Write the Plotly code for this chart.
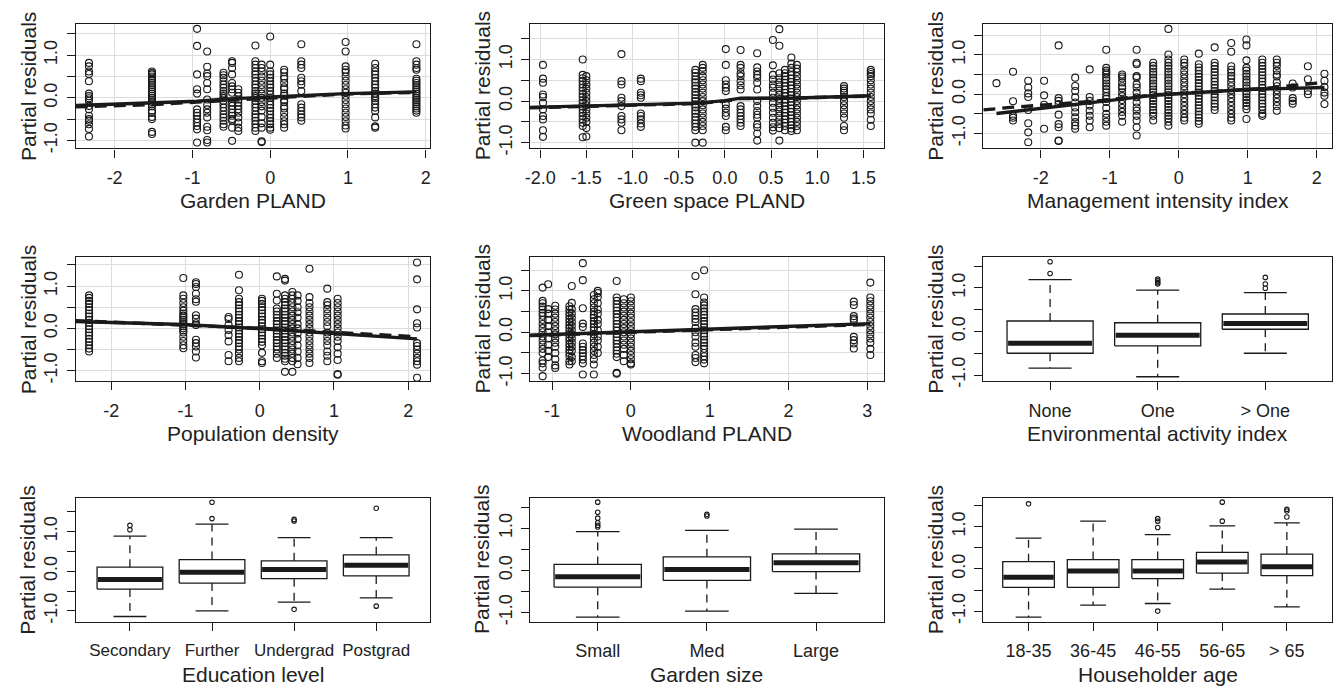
import plotly.graph_objects as go

FONT = "Liberation Sans, Arial, Helvetica, sans-serif"
INK = "#1a1a1a"
GRID = "#dcdcdc"

# ---------------- Panel 1: Garden PLAND ----------------
garden_x = [-2.33, -1.52, -0.94, -0.81, -0.60, -0.49, -0.41, -0.19, -0.11, 0.00, 0.18, 0.40, 0.97, 1.35, 1.88]
garden_y = [
    [0.82, 0.74, 0.62, 0.56, 0.39, 0.10, 0.04, -0.01, -0.07, -0.19, -0.27, -0.42, -0.50, -0.54, -0.62, -0.73, -0.91],
    [0.62, 0.58, 0.55, 0.50, 0.45, 0.40, 0.35, 0.30, 0.25, 0.20, 0.15, 0.10, 0.05, 0.00, -0.05, -0.10, -0.15, -0.20, -0.30, -0.35, -0.45, -0.50, -0.80, -0.85],
    [1.62, 1.22, 0.55, 0.20, 0.10, -0.27, -0.35, -0.42, -0.50, -0.58, -0.66, -0.74, -1.05],
    [1.09, 0.73, 0.57, 0.51, 0.35, 0.20, -0.04, -0.17, -0.27, -0.35, -0.46, -0.68, -0.76, -0.99, -1.05],
    [0.59, 0.53, 0.47, 0.39, 0.31, 0.24, 0.16, 0.10, 0.04, -0.01, -0.07, -0.15, -0.23, -0.31, -0.39, -0.46, -0.54, -0.62, -0.68],
    [0.86, 0.82, 0.70, 0.55, 0.35, 0.27, 0.20, 0.12, -0.11, -0.19, -0.27, -0.35, -0.42, -0.50, -0.54, -0.70, -1.01],
    [0.20, 0.12, 0.04, -0.04, -0.11, -0.19, -0.27, -0.35, -0.46, -0.58, -0.70, -0.78],
    [1.23, 0.86, 0.78, 0.70, 0.62, 0.55, 0.47, 0.39, 0.31, 0.24, 0.16, 0.10, 0.04, -0.01, -0.07, -0.15, -0.23, -0.31, -0.39, -0.46, -0.54, -0.62, -0.70, -0.78],
    [0.78, 0.70, 0.62, 0.50, 0.40, 0.30, 0.20, 0.10, 0.00, -0.10, -0.20, -0.30, -0.45, -0.60, -0.70, -1.02, -1.04],
    [1.44, 0.78, 0.62, 0.55, 0.47, 0.39, 0.31, 0.24, 0.16, 0.08, 0.00, -0.08, -0.16, -0.24, -0.31, -0.39, -0.47, -0.55, -0.62, -0.70, -0.75],
    [0.66, 0.60, 0.50, 0.45, 0.35, 0.25, 0.20, 0.10, 0.05, -0.05, -0.10, -0.20, -0.25, -0.35, -0.45, -0.55, -0.62, -0.70],
    [1.26, 0.86, 0.78, 0.70, 0.47, 0.39, 0.31, 0.16, -0.15, -0.23, -0.31, -0.39, -0.46, -0.54],
    [1.31, 1.09, 0.74, 0.66, 0.60, 0.50, 0.40, 0.30, 0.20, 0.12, 0.05, -0.05, -0.15, -0.25, -0.35, -0.45, -0.55, -0.65, -0.72],
    [0.80, 0.70, 0.62, 0.55, 0.47, 0.39, 0.31, 0.24, 0.16, 0.10, 0.04, -0.01, -0.07, -0.15, -0.23, -0.31, -0.46, -0.67, -0.70],
    [1.26, 0.86, 0.78, 0.70, 0.66, 0.45, 0.40, 0.35, 0.30, 0.25, 0.20, 0.15, 0.10, 0.05, 0.00, -0.05, -0.10, -0.15, -0.20, -0.25, -0.30, -0.35],
]
garden_fit_x = [-2.50, -0.94, -0.60, 0.00, 0.40, 0.97, 1.88]
garden_fit_y = [-0.18, -0.08, -0.03, 0.02, 0.07, 0.10, 0.14]
garden_smooth_x = [-2.50, -1.52, -0.94, 0.00, 0.97, 1.88]
garden_smooth_y = [-0.21, -0.16, -0.10, 0.00, 0.09, 0.13]

# ---------------- Panel 2: Green space PLAND ----------------
green_x = [-1.97, -1.54, -1.50, -1.12, -0.91, -0.32, -0.24, 0.01, 0.17, 0.35, 0.52, 0.59, 0.65, 0.72, 0.78, 1.29, 1.58]
green_y = [
    [0.87, 0.54, 0.44, 0.16, 0.10, -0.04, -0.20, -0.36, -0.44, -0.70, -0.86],
    [1.00, 0.63, 0.55, 0.48, 0.40, 0.32, 0.25, 0.17, 0.10, 0.02, -0.05, -0.13, -0.20, -0.28, -0.36, -0.44, -0.52, -0.60, -0.87],
    [0.60, 0.50, 0.40, 0.30, 0.20, 0.10, 0.00, -0.10, -0.20, -0.30, -0.40, -0.50, -0.65, -0.85],
    [1.13, 0.48, 0.40, 0.08, 0.00, -0.12, -0.36, -0.44, -0.52, -0.70],
    [0.54, 0.48, 0.20, 0.14, 0.08, -0.30, -0.36, -0.44, -0.54, -0.62],
    [0.75, 0.68, 0.60, 0.52, 0.45, 0.37, 0.30, 0.22, 0.15, 0.07, 0.00, -0.08, -0.15, -0.23, -0.30, -0.38, -0.46, -0.54, -0.62, -0.70, -1.00],
    [0.87, 0.80, 0.72, 0.60, 0.50, 0.40, 0.30, 0.20, 0.10, 0.00, -0.10, -0.20, -0.30, -0.40, -0.50, -0.60, -0.70, -1.00],
    [1.25, 0.87, 0.50, 0.40, 0.32, 0.24, -0.08, -0.18, -0.28, -0.36, -0.62, -0.70],
    [1.23, 0.87, 0.80, 0.67, 0.60, 0.48, 0.38, 0.28, -0.12, -0.20, -0.28, -0.36, -0.44, -0.52, -0.60],
    [1.15, 0.81, 0.71, 0.63, 0.56, 0.44, 0.28, 0.00, -0.12, -0.24, -0.33, -0.40, -0.56, -0.63, -0.78, -0.95],
    [1.47, 0.86, 0.63, 0.52, 0.40, 0.32, 0.20, 0.08, -0.04, -0.16, -0.28, -0.40, -0.52, -0.63, -0.71],
    [1.73, 1.33, 0.67, 0.55, 0.45, 0.35, 0.25, 0.15, 0.05, -0.05, -0.15, -0.25, -0.35, -0.45, -0.55, -0.65, -0.95],
    [0.75, 0.67, 0.60, 0.52, 0.44, 0.36, 0.28, 0.20, 0.12, 0.04, -0.04, -0.12, -0.20, -0.28, -0.36, -0.44, -0.52, -0.60, -0.70],
    [1.05, 0.90, 0.80, 0.70, 0.62, 0.54, 0.46, 0.38, 0.30, 0.22, 0.14, 0.06, -0.02, -0.10, -0.18, -0.26, -0.34, -0.42, -0.50, -0.58, -0.66, -0.72],
    [0.87, 0.78, 0.70, 0.60, 0.50, 0.40, 0.30, 0.20, 0.10, 0.00, -0.10, -0.20, -0.30, -0.40, -0.50, -0.60, -0.70],
    [0.36, 0.30, 0.25, 0.20, 0.10, 0.00, -0.10, -0.20, -0.30, -0.40, -0.60, -0.70],
    [0.75, 0.70, 0.65, 0.60, 0.50, 0.40, 0.30, 0.20, 0.10, 0.00, -0.10, -0.20, -0.30, -0.45, -0.60],
]
green_fit_x = [-2.11, -1.50, -0.30, 0.00, 0.17, 0.70, 1.58]
green_fit_y = [-0.15, -0.12, -0.05, 0.01, 0.07, 0.07, 0.13]
green_smooth_x = [-2.11, -1.50, -0.30, 0.00, 0.17, 0.70, 1.58]
green_smooth_y = [-0.16, -0.13, -0.06, 0.00, 0.06, 0.07, 0.12]

# ---------------- Panel 3: Management intensity index ----------------
mgmt_x = [-2.64, -2.40, -2.18, -1.95, -1.74, -1.50, -1.29, -1.05, -0.82, -0.61, -0.37, -0.15,
          0.08, 0.29, 0.52, 0.76, 0.98, 1.21, 1.42, 1.65, 1.87, 2.11]
mgmt_y = [
    [0.28],
    [0.57, -0.18, -0.55, -0.60, -0.67],
    [0.34, 0.17, 0.02, -0.07, -0.40, -0.74, -0.97, -1.22],
    [0.34, -0.03, -0.27, -0.88],
    [1.24, -0.10, -0.17, -0.25, -0.52, -0.76, -0.84, -1.18, -1.19],
    [0.42, 0.21, 0.08, -0.08, -0.21, -0.34, -0.46, -0.59, -0.71, -0.80, -0.88],
    [0.63, -0.07, -0.17, -0.29, -0.42, -0.55, -0.67, -0.84],
    [1.13, 0.67, 0.60, 0.55, 0.50, 0.42, 0.35, 0.27, 0.20, 0.13, 0.05, -0.05, -0.12, -0.20, -0.35, -0.50, -0.60, -0.70, -0.80],
    [0.50, 0.45, 0.40, 0.30, 0.20, 0.15, 0.05, -0.05, -0.15, -0.25, -0.35, -0.45, -0.55, -0.70],
    [1.13, 0.80, 0.76, 0.46, 0.42, 0.25, 0.17, 0.04, -0.08, -0.21, -0.34, -0.42, -0.55, -0.67, -0.84, -1.05],
    [0.80, 0.72, 0.65, 0.57, 0.50, 0.42, 0.35, 0.27, 0.20, 0.12, 0.05, -0.02, -0.10, -0.17, -0.25, -0.32, -0.40, -0.47, -0.55, -0.67],
    [1.66, 1.01, 0.88, 0.80, 0.72, 0.65, 0.57, 0.50, 0.42, 0.35, 0.27, 0.20, 0.12, 0.05, -0.02, -0.10, -0.17, -0.25, -0.32, -0.40, -0.47, -0.55, -0.62, -0.70, -0.80],
    [0.88, 0.80, 0.72, 0.60, 0.50, 0.40, 0.30, 0.20, 0.10, 0.00, -0.10, -0.20, -0.30, -0.40, -0.50, -0.60, -0.67],
    [1.03, 0.76, 0.68, 0.60, 0.52, 0.44, 0.36, 0.28, 0.20, 0.12, 0.04, -0.04, -0.12, -0.20, -0.28, -0.36, -0.44, -0.52, -0.60, -0.68, -0.75],
    [1.19, 0.80, 0.72, 0.64, 0.56, 0.48, 0.40, 0.32, 0.24, 0.16, 0.08, 0.00, -0.08, -0.16, -0.24, -0.32, -0.40],
    [1.30, 1.08, 0.71, 0.62, 0.55, 0.47, 0.40, 0.30, 0.20, 0.10, 0.00, -0.10, -0.20, -0.30, -0.40, -0.50, -0.60, -0.67],
    [1.39, 1.24, 0.86, 0.67, 0.60, 0.52, 0.45, 0.37, 0.30, 0.22, 0.15, 0.07, 0.00, -0.08, -0.15, -0.22, -0.30, -0.38, -0.63],
    [0.88, 0.80, 0.72, 0.64, 0.56, 0.48, 0.40, 0.32, 0.24, 0.16, 0.08, 0.00, -0.08, -0.16, -0.24, -0.32, -0.40, -0.50, -0.55],
    [0.88, 0.80, 0.72, 0.60, 0.50, 0.45, 0.30, 0.20, 0.10, 0.00, -0.10, -0.20, -0.30, -0.42],
    [0.27, 0.17, -0.10, -0.17, -0.24],
    [0.71, 0.38, 0.08, 0.00],
    [0.52, 0.34, 0.18, 0.04, -0.04, -0.25],
]
mgmt_fit_x = [-2.64, -1.74, -1.05, -0.37, -0.15, 0.52, 0.98, 1.65, 2.11]
mgmt_fit_y = [-0.49, -0.32, -0.17, -0.03, 0.00, 0.07, 0.12, 0.16, 0.17]
mgmt_smooth_x = [-2.83, -2.40, -1.74, -1.05, -0.37, 0.52, 1.21, 1.65, 2.11]
mgmt_smooth_y = [-0.40, -0.33, -0.25, -0.15, -0.02, 0.07, 0.14, 0.22, 0.30]

# ---------------- Panel 4: Population density ----------------
pop_x = [-2.30, -1.03, -0.86, -0.42, -0.28, 0.03, 0.23, 0.34, 0.44, 0.51, 0.67, 0.91, 1.05, 2.12]
pop_y = [
    [0.78, 0.72, 0.65, 0.58, 0.50, 0.43, 0.35, 0.28, 0.20, 0.13, 0.05, -0.02, -0.10, -0.17, -0.25, -0.32, -0.40, -0.48, -0.55],
    [1.19, 0.78, 0.70, 0.60, 0.50, 0.42, 0.35, 0.30, 0.25, 0.20, 0.15, 0.10, 0.05, 0.00, -0.05, -0.10, -0.20, -0.30, -0.40, -0.47],
    [1.09, 1.05, 0.98, 0.82, 0.69, 0.63, 0.31, 0.23, 0.12, 0.08, -0.27, -0.35, -0.43, -0.55, -0.69],
    [0.27, 0.22, 0.08, -0.04, -0.16, -0.31, -0.63, -0.78],
    [1.27, 0.90, 0.70, 0.62, 0.55, 0.47, 0.40, 0.32, 0.25, 0.17, 0.10, 0.02, -0.05, -0.13, -0.20, -0.28, -0.35, -0.43, -0.50, -0.60, -0.70, -0.78],
    [0.70, 0.65, 0.58, 0.50, 0.43, 0.35, 0.28, 0.20, 0.13, 0.05, -0.02, -0.10, -0.17, -0.25, -0.32, -0.40, -0.58, -0.78, -0.82],
    [1.23, 0.82, 0.66, 0.47, 0.40, 0.32, 0.25, 0.17, 0.10, 0.02, -0.05, -0.13, -0.20, -0.28, -0.35, -0.43, -0.50, -0.60, -0.70],
    [1.17, 1.13, 0.78, 0.70, 0.62, 0.55, 0.47, 0.40, 0.32, 0.25, 0.17, 0.10, 0.02, -0.05, -0.13, -0.20, -0.28, -0.35, -0.43, -0.50, -0.58, -0.65, -0.72, -0.78, -1.03],
    [0.86, 0.78, 0.70, 0.60, 0.50, 0.40, 0.30, 0.20, 0.10, 0.00, -0.10, -0.20, -0.30, -0.40, -0.50, -0.60, -0.70, -0.78, -1.03],
    [0.78, 0.65, 0.50, 0.38, 0.25, 0.10, 0.00, -0.12, -0.25, -0.40, -0.55, -0.70, -0.85],
    [1.41, 0.74, 0.60, 0.50, 0.40, 0.30, 0.20, 0.10, 0.00, -0.10, -0.20, -0.30, -0.40, -0.50, -0.60, -0.70, -0.82],
    [0.94, 0.62, 0.55, 0.45, 0.35, 0.25, 0.15, 0.05, -0.10, -0.20, -0.30, -0.40, -0.55, -0.65, -0.78],
    [0.70, 0.60, 0.50, 0.40, 0.30, 0.20, 0.10, 0.00, -0.10, -0.20, -0.30, -0.45, -0.60, -0.75, -1.08, -1.10],
    [1.56, 1.16, 0.45, 0.12, 0.02, -0.35, -0.42, -0.50, -0.60, -0.70, -0.78, -0.86, -1.17],
]
pop_fit_x = [-2.48, -1.03, 0.03, 1.05, 2.12]
pop_fit_y = [0.16, 0.09, -0.01, -0.12, -0.25]
pop_smooth_x = [-2.48, -1.03, 0.03, 1.05, 2.12]
pop_smooth_y = [0.18, 0.08, 0.00, -0.10, -0.20]

# ---------------- Panel 5: Woodland PLAND ----------------
wood_x = [-1.12, -1.05, -0.96, -0.78, -0.75, -0.61, -0.47, -0.42, -0.18, -0.09, 0.00, 0.82, 0.93, 2.83, 3.04]
wood_y = [
    [1.08, 0.76, 0.70, 0.62, 0.55, 0.47, 0.40, 0.30, 0.20, 0.10, 0.00, -0.10, -0.20, -0.30, -0.40, -0.50, -0.68, -0.75, -0.85, -1.06],
    [1.16, 0.56, 0.45, 0.30, 0.15, 0.00, -0.15, -0.30, -0.45, -0.60],
    [0.64, 0.55, 0.45, 0.35, 0.25, 0.15, 0.05, -0.05, -0.15, -0.25, -0.35, -0.50, -0.65, -0.80, -0.86],
    [0.63, 0.55, 0.47, 0.40, 0.32, 0.25, 0.17, 0.10, 0.02, -0.05, -0.13, -0.20, -0.28, -0.35, -0.43, -0.50, -0.58, -0.70, -0.78],
    [1.12, 0.71, 0.56, 0.45, 0.35, 0.25, 0.15, 0.05, -0.05, -0.15, -0.25, -0.35, -0.45, -0.60, -0.70],
    [1.67, 1.26, 0.58, 0.21, 0.13, -0.27, -0.35, -0.43, -0.50, -0.58, -0.66, -0.75, -1.02],
    [0.90, 0.80, 0.70, 0.60, 0.50, 0.42, 0.35, 0.27, 0.20, 0.12, 0.05, -0.05, -0.15, -0.25, -0.35, -0.45, -0.55, -0.65, -0.78, -1.02],
    [1.00, 0.95, 0.85, 0.70, 0.55, 0.45, 0.30, 0.20, 0.05, -0.10, -0.20, -0.35, -0.50],
    [1.24, 0.84, 0.76, 0.68, 0.60, 0.52, 0.44, 0.36, 0.28, 0.20, 0.12, 0.04, -0.04, -0.12, -0.20, -0.28, -0.36, -0.44, -0.52, -0.60, -0.98, -1.00],
    [0.80, 0.70, 0.60, 0.50, 0.40, 0.30, 0.20, 0.10, 0.00, -0.10, -0.20, -0.30, -0.40, -0.55, -0.70],
    [0.84, 0.75, 0.65, 0.55, 0.45, 0.35, 0.25, 0.15, 0.05, -0.05, -0.15, -0.25, -0.35, -0.45, -0.55, -0.65, -0.75, -0.78],
    [1.36, 0.92, 0.56, 0.48, 0.40, 0.32, 0.25, 0.10, 0.00, -0.10, -0.25, -0.35, -0.55, -0.62, -0.72],
    [1.50, 0.84, 0.72, 0.65, 0.58, 0.50, 0.42, 0.35, 0.27, 0.20, 0.12, 0.05, -0.03, -0.10, -0.18, -0.25, -0.33, -0.40, -0.50, -0.58, -0.66, -0.75],
    [0.74, 0.66, 0.39, 0.33, 0.29, -0.11, -0.19, -0.27, -0.39],
    [1.20, 0.84, 0.75, 0.65, 0.55, 0.45, 0.35, 0.25, 0.15, 0.05, -0.05, -0.15, -0.25, -0.40, -0.55],
]
wood_fit_x = [-1.28, 0.00, 0.93, 3.04]
wood_fit_y = [-0.07, 0.01, 0.07, 0.21]
wood_smooth_x = [-1.28, 0.00, 0.93, 2.00, 3.04]
wood_smooth_y = [-0.08, 0.00, 0.06, 0.12, 0.19]

# ---------------- Box panels ----------------
env_cats = ["None", "One", "> One"]
env_q1 = [-0.50, -0.33, 0.05]
env_med = [-0.27, -0.09, 0.18]
env_q3 = [0.24, 0.20, 0.40]
env_lo = [-0.84, -1.04, -0.50]
env_hi = [1.19, 0.95, 0.89]
env_out = [[1.60, 1.33], [1.20, 1.16, 1.12, 1.09], [1.24, 1.09, 0.99]]

edu_cats = ["Secondary", "Further", "Undergrad", "Postgrad"]
edu_q1 = [-0.45, -0.30, -0.19, -0.12]
edu_med = [-0.21, -0.03, 0.04, 0.15]
edu_q3 = [0.10, 0.29, 0.26, 0.41]
edu_lo = [-1.14, -1.00, -0.78, -0.67]
edu_hi = [0.88, 1.18, 0.84, 0.84]
edu_out = [[1.15, 1.04], [1.73, 1.32], [1.30, 1.26, -0.96], [1.58, -0.88]]

size_cats = ["Small", "Med", "Large"]
size_q1 = [-0.40, -0.24, -0.03]
size_med = [-0.15, 0.02, 0.18]
size_q3 = [0.14, 0.32, 0.39]
size_lo = [-1.11, -0.97, -0.55]
size_hi = [0.92, 0.95, 0.98]
size_out = [[1.62, 1.38, 1.24, 1.13, 1.07, 1.03], [1.33, 1.29], []]

age_cats = ["18-35", "36-45", "46-55", "56-65", "> 65"]
age_q1 = [-0.44, -0.44, -0.23, -0.10, -0.16]
age_med = [-0.20, -0.05, -0.05, 0.16, 0.05]
age_q3 = [0.17, 0.22, 0.22, 0.39, 0.35]
age_lo = [-1.14, -0.86, -0.82, -0.48, -0.90]
age_hi = [0.73, 1.13, 0.81, 1.02, 1.09]
age_out = [[1.54], [], [1.19, 1.13, 0.98, -1.00], [1.58, 1.13], [1.41, 1.37, 1.23]]

# ---------------- Layout geometry (pixels) ----------------
W, H = 1344, 695
COLS = [(71, 427), (527, 882), (982, 1332)]
ROWS = [(24, 150), (260, 385), (503, 628)]

fig = go.Figure()


def flat(xs, ys):
    fx, fy = [], []
    for x, col in zip(xs, ys):
        fx += [x] * len(col)
        fy += col
    return fx, fy


def scatter_panel(i, xs, ys, fx, fy, sx, sy):
    px, py = flat(xs, ys)
    ax = "x" if i == 1 else f"x{i}"
    ay = "y" if i == 1 else f"y{i}"
    fig.add_trace(go.Scatter(x=px, y=py, mode="markers", xaxis=ax, yaxis=ay,
                             marker=dict(symbol="circle-open", size=7, color=INK, line=dict(width=1.1, color=INK)),
                             showlegend=False, hoverinfo="skip"))
    fig.add_trace(go.Scatter(x=sx, y=sy, mode="lines", xaxis=ax, yaxis=ay,
                             line=dict(color=INK, width=3.4, dash="12px,7px"), showlegend=False, hoverinfo="skip"))
    fig.add_trace(go.Scatter(x=fx, y=fy, mode="lines", xaxis=ax, yaxis=ay,
                             line=dict(color=INK, width=3.4), showlegend=False, hoverinfo="skip"))


def box_panel(i, cats, q1, med, q3, lo, hi, outs):
    ax = f"x{i}"
    ay = f"y{i}"
    hw, cw = 0.4, 0.2
    bx, by, wx, wy, cx, cy, mx, my, ox, oy = [], [], [], [], [], [], [], [], [], []
    for k in range(len(cats)):
        c = k + 1
        bx += [c - hw, c + hw, c + hw, c - hw, c - hw, None]
        by += [q1[k], q1[k], q3[k], q3[k], q1[k], None]
        wx += [c, c, None, c, c, None]
        wy += [q3[k], hi[k], None, q1[k], lo[k], None]
        cx += [c - cw, c + cw, None, c - cw, c + cw, None]
        cy += [hi[k], hi[k], None, lo[k], lo[k], None]
        mx += [c - hw + 0.01, c + hw - 0.01, None]
        my += [med[k], med[k], None]
        ox += [c] * len(outs[k])
        oy += outs[k]
    common = dict(xaxis=ax, yaxis=ay, showlegend=False, hoverinfo="skip")
    fig.add_trace(go.Scatter(x=wx, y=wy, mode="lines", line=dict(color=INK, width=1.3, dash="8px,6px"), **common))
    fig.add_trace(go.Scatter(x=cx, y=cy, mode="lines", line=dict(color=INK, width=1.3), **common))
    fig.add_trace(go.Scatter(x=bx, y=by, mode="lines", line=dict(color=INK, width=1.3), **common))
    fig.add_trace(go.Scatter(x=mx, y=my, mode="lines", line=dict(color=INK, width=5), **common))
    fig.add_trace(go.Scatter(x=ox, y=oy, mode="markers",
                             marker=dict(symbol="circle-open", size=4.5, color=INK, line=dict(width=1.1, color=INK)),
                             **common))


scatter_panel(1, garden_x, garden_y, garden_fit_x, garden_fit_y, garden_smooth_x, garden_smooth_y)
scatter_panel(2, green_x, green_y, green_fit_x, green_fit_y, green_smooth_x, green_smooth_y)
scatter_panel(3, mgmt_x, mgmt_y, mgmt_fit_x, mgmt_fit_y, mgmt_smooth_x, mgmt_smooth_y)
scatter_panel(4, pop_x, pop_y, pop_fit_x, pop_fit_y, pop_smooth_x, pop_smooth_y)
scatter_panel(5, wood_x, wood_y, wood_fit_x, wood_fit_y, wood_smooth_x, wood_smooth_y)
box_panel(6, env_cats, env_q1, env_med, env_q3, env_lo, env_hi, env_out)
box_panel(7, edu_cats, edu_q1, edu_med, edu_q3, edu_lo, edu_hi, edu_out)
box_panel(8, size_cats, size_q1, size_med, size_q3, size_lo, size_hi, size_out)
box_panel(9, age_cats, age_q1, age_med, age_q3, age_lo, age_hi, age_out)

x_ranges = [[-2.5, 2.06], [-2.11, 1.72], [-2.83, 2.22], [-2.48, 2.3], [-1.28, 3.21],
            [0.38, 3.62], [0.34, 4.66], [0.38, 3.62], [0.3, 5.7]]
y_ranges = [[-1.19, 1.74], [-1.14, 1.86], [-1.38, 1.79], [-1.25, 1.68], [-1.18, 1.81],
            [-1.14, 1.70], [-1.27, 1.84], [-1.22, 1.72], [-1.25, 1.68]]
x_titles = ["Garden PLAND", "Green space PLAND", "Management intensity index",
            "Population density", "Woodland PLAND", "Environmental activity index",
            "Education level", "Garden size", "Householder age"]
x_ticks = [
    (dict(tickvals=[-2, -1, 0, 1, 2], ticktext=["-2", "-1", "0", "1", "2"])),
    (dict(tickvals=[-2, -1.5, -1, -0.5, 0, 0.5, 1, 1.5],
          ticktext=["-2.0", "-1.5", "-1.0", "-0.5", "0.0", "0.5", "1.0", "1.5"])),
    (dict(tickvals=[-2, -1, 0, 1, 2], ticktext=["-2", "-1", "0", "1", "2"])),
    (dict(tickvals=[-2, -1, 0, 1, 2], ticktext=["-2", "-1", "0", "1", "2"])),
    (dict(tickvals=[-1, 0, 1, 2, 3], ticktext=["-1", "0", "1", "2", "3"])),
    (dict(tickvals=[1, 2, 3], ticktext=env_cats)),
    (dict(tickvals=[1, 2, 3, 4], ticktext=edu_cats)),
    (dict(tickvals=[1, 2, 3], ticktext=size_cats)),
    (dict(tickvals=[1, 2, 3, 4, 5], ticktext=age_cats)),
]
y_tickvals = [-1, -0.5, 0, 0.5, 1, 1.5]
y_ticktext = ["-1.0", "", "0.0", "", "1.0", ""]

annotations = []
layout_axes = {}
for i in range(9):
    r, c = divmod(i, 3)
    l, rr = COLS[c]
    t, b = ROWS[r]
    n = "" if i == 0 else str(i + 1)
    grid = i < 5
    tickfont = dict(family=FONT, size=17 if i == 6 else 18, color="#222")
    layout_axes[f"xaxis{n}"] = dict(
        domain=[l / W, rr / W], anchor=f"y{n}", range=x_ranges[i],
        showline=True, linecolor=INK, linewidth=1.3, mirror=True,
        ticks="outside", ticklen=8, tickwidth=1.2, tickcolor=INK,
        showgrid=grid, gridcolor=GRID, gridwidth=1.2, zeroline=False,
        tickfont=tickfont, tickmode="array", ticklabelstandoff=5, **x_ticks[i])
    layout_axes[f"yaxis{n}"] = dict(
        domain=[1 - b / H, 1 - t / H], anchor=f"x{n}", range=y_ranges[i],
        showline=True, linecolor=INK, linewidth=1.3, mirror=True,
        ticks="outside", ticklen=8, tickwidth=1.2, tickcolor=INK,
        showgrid=grid, gridcolor=GRID, gridwidth=1.2, zeroline=False,
        tickfont=dict(family=FONT, size=18, color="#222"), tickangle=-90,
        ticklabelstandoff=2,
        tickmode="array", tickvals=y_tickvals, ticktext=y_ticktext)
    annotations.append(dict(text=x_titles[i], xref="paper", yref="paper",
                            x=(l + rr) / 2 / W, y=1 - (b + 53) / H, xanchor="center", yanchor="middle",
                            showarrow=False, font=dict(family=FONT, size=21, color="#222")))
    annotations.append(dict(text="Partial residuals", xref="paper", yref="paper",
                            x=(l - 48) / W, y=1 - (t + b) / 2 / H, xanchor="center", yanchor="middle",
                            textangle=-90, showarrow=False, font=dict(family=FONT, size=21, color="#222")))

fig.update_layout(
    width=W, height=H, margin=dict(l=0, r=0, t=0, b=0),
    paper_bgcolor="white", plot_bgcolor="white",
    annotations=annotations, showlegend=False, **layout_axes)

fig.write_html("out.html")
